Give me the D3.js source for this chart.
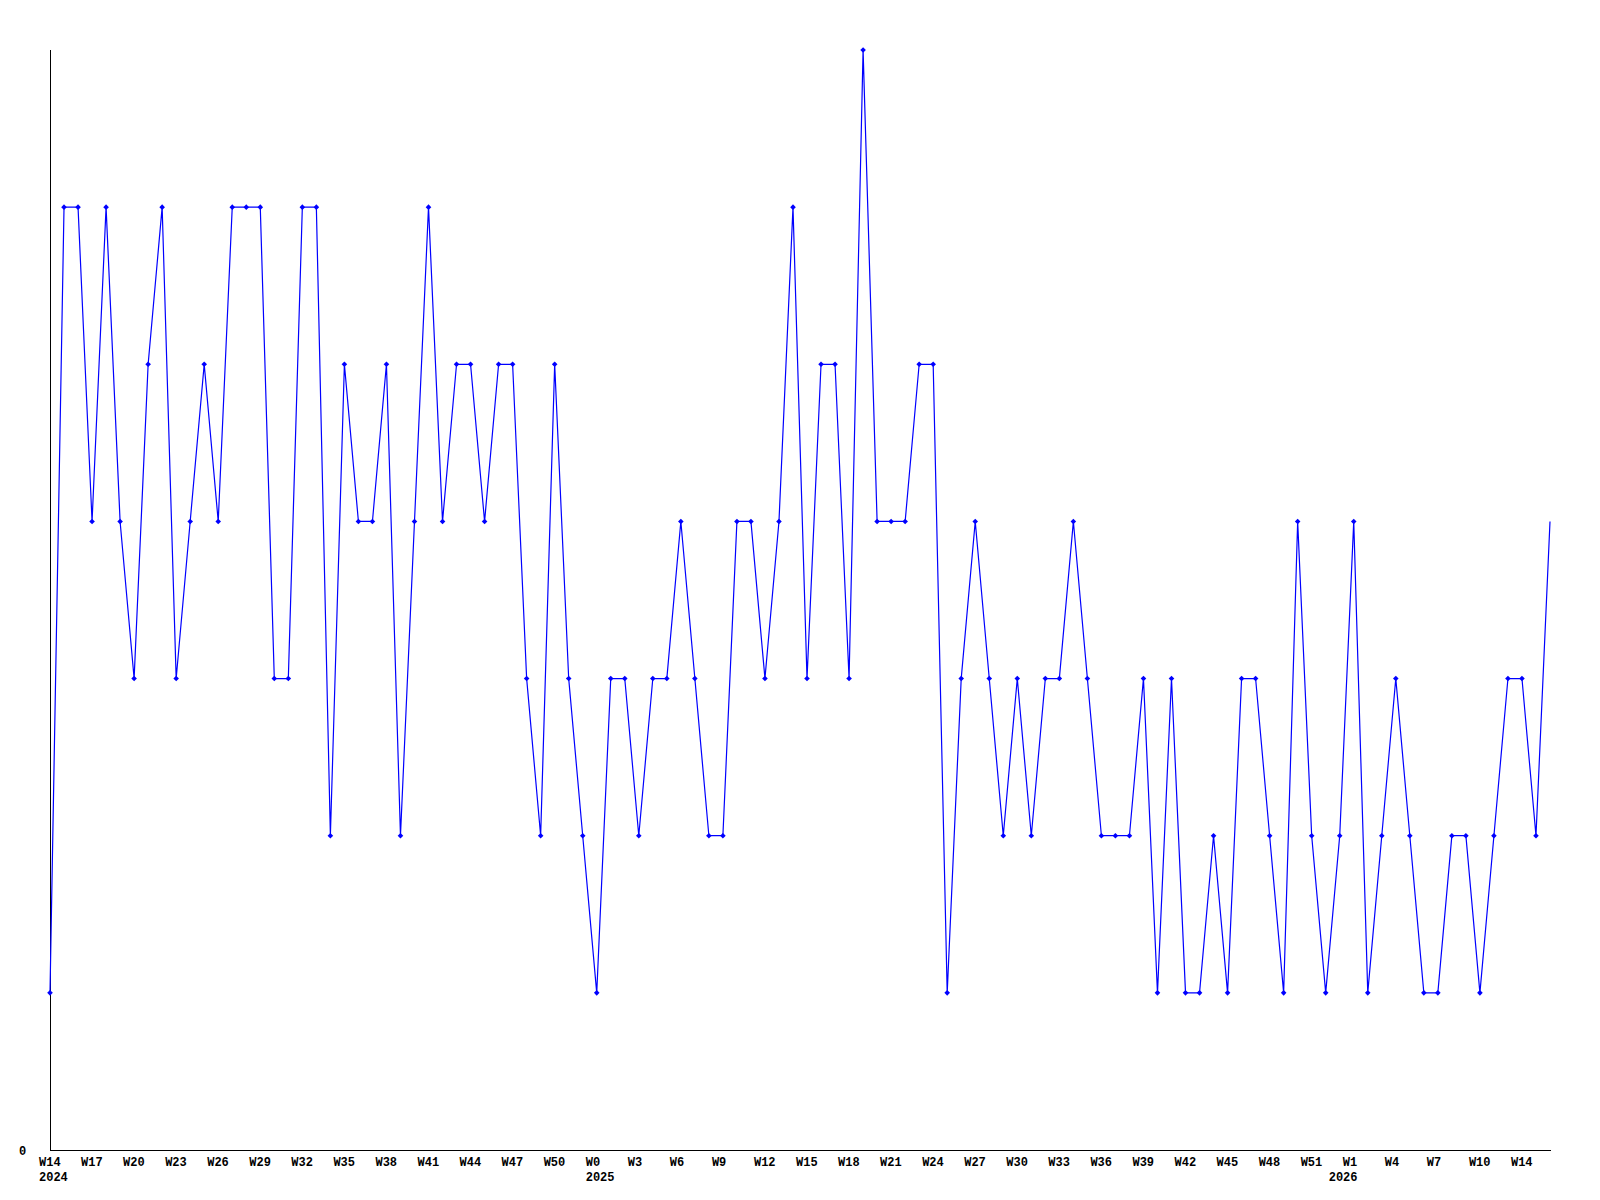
<!DOCTYPE html>
<html>
<head>
<meta charset="utf-8">
<script src="https://cdn.jsdelivr.net/npm/d3@7"></script>
<style>
  body { margin: 0; background: #fff; }
  text { font-family: "Liberation Mono", "DejaVu Sans Mono", monospace; font-weight: bold; font-size: 12px; fill: #000; }
</style>
</head>
<body>
<div id="chart"></div>
<script>
// weekly values, W14 2024 .. W14 2026
const values = [
  1, 6, 6, 4, 6, 4, 3, 5, 6, 3,
  4, 5, 4, 6, 6, 6, 3, 3, 6, 6,
  2, 5, 4, 4, 5, 2, 4, 6, 4, 5,
  5, 4, 5, 5, 3, 2, 5, 3, 2, 1,
  3, 3, 2, 3, 3, 4, 3, 2, 2, 4,
  4, 3, 4, 6, 3, 5, 5, 3, 7, 4,
  4, 4, 5, 5, 1, 3, 4, 3, 2, 3,
  2, 3, 3, 4, 3, 2, 2, 2, 3, 1,
  3, 1, 1, 2, 1, 3, 3, 2, 1, 4,
  2, 1, 2, 4, 1, 2, 3, 2, 1, 1,
  2, 2, 1, 2, 3, 3, 2, 4
];

// x axis labels (position = index into values)
const tickIndex = [0, 3, 6, 9, 12, 15, 18, 21, 24, 27, 30, 33, 36, 39, 42, 45, 48, 51,
  54, 57, 60, 63, 66, 69, 72, 75, 78, 81, 84, 87, 90, 93, 96, 99, 102, 105];
const tickLabels = ["W14", "W17", "W20", "W23", "W26", "W29", "W32", "W35", "W38", "W41",
  "W44", "W47", "W50", "W0", "W3", "W6", "W9", "W12", "W15", "W18", "W21", "W24", "W27",
  "W30", "W33", "W36", "W39", "W42", "W45", "W48", "W51", "W1", "W4", "W7", "W10", "W14"];
const yearIndex = [0, 39, 92];
const yearLabels = ["2024", "2025", "2026"];

const width = 1600, height = 1200;
const plotLeft = 50, plotRight = 1550, plotTop = 50, plotBottom = 1150;

const svg = d3.select("#chart").append("svg")
  .attr("width", width)
  .attr("height", height);

const x = d3.scaleLinear().domain([0, values.length - 1]).range([plotLeft, plotRight]);
const y = d3.scaleLinear().domain([0, 7]).range([plotBottom, plotTop]);

// axes lines
svg.append("line")
  .attr("x1", plotLeft + 0.5).attr("x2", plotLeft + 0.5)
  .attr("y1", plotTop).attr("y2", plotBottom)
  .attr("stroke", "#000").attr("stroke-width", 1);
svg.append("line")
  .attr("x1", plotLeft).attr("x2", plotRight + 1)
  .attr("y1", plotBottom + 0.5).attr("y2", plotBottom + 0.5)
  .attr("stroke", "#000").attr("stroke-width", 1);

svg.append("text")
  .attr("x", 19).attr("y", y(0) + 5)
  .text("0");

svg.selectAll("text.tick")
  .data(tickIndex)
  .enter().append("text")
  .attr("class", "tick")
  .attr("x", function (d) { return x(d) - 11; })
  .attr("y", plotBottom + 16)
  .text(function (d, i) { return tickLabels[i]; });

svg.selectAll("text.year")
  .data(yearIndex)
  .enter().append("text")
  .attr("class", "year")
  .attr("x", function (d) { return x(d) - 11; })
  .attr("y", plotBottom + 31)
  .text(function (d, i) { return yearLabels[i]; });

const line = d3.line()
  .x(function (d, i) { return x(i); })
  .y(function (d) { return y(d); });

svg.append("path")
  .datum(values)
  .attr("d", line)
  .attr("fill", "none")
  .attr("stroke", "#0000ff")
  .attr("stroke-width", 1.2);

// small diamond markers (last point has none)
svg.selectAll("path.marker")
  .data(values.slice(0, values.length - 1))
  .enter().append("path")
  .attr("class", "marker")
  .attr("d", function (d, i) {
    var cx = x(i), cy = y(d), r = 2.8;
    return "M" + cx + "," + (cy - r) + "L" + (cx + r) + "," + cy + "L" + cx + "," + (cy + r) + "L" + (cx - r) + "," + cy + "Z";
  })
  .attr("fill", "#0000ff");
</script>
</body>
</html>
